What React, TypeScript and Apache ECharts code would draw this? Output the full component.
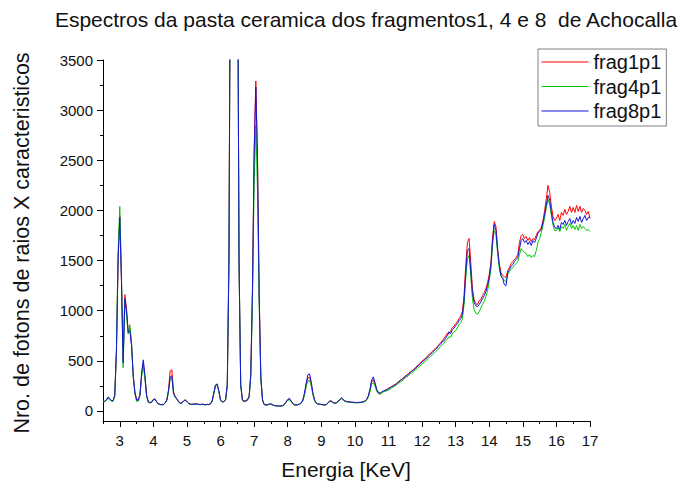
import React, { useEffect, useRef } from "react";
import * as echarts from "echarts";

// Spectrum sampling: first channel energy and channel width (KeV)
const E_START = 2.5;
const E_STEP = 0.05;

const TITLE = "Espectros da pasta ceramica dos fragmentos1, 4 e 8  de Achocalla";
const X_NAME = "Energia [KeV]";
const Y_NAME = "Nro. de fotons de raios X caracteristicos";
const SERIES_NAMES = ["frag1p1", "frag4p1", "frag8p1"];

const frag1p1 = [
  90, 95, 110, 135, 120, 105, 100, 150, 580, 1520,
  1950, 1280, 520, 1160, 1020, 800, 820, 660, 360, 190,
  120, 110, 160, 360, 480, 330, 150, 95, 85, 90,
  115, 118, 90, 70, 66, 63, 66, 80, 110, 210,
  400, 410, 190, 145, 120, 95, 78, 80, 100, 112,
  95, 75, 68, 66, 70, 68, 70, 66, 64, 68,
  65, 62, 66, 64, 72, 100, 178, 255, 265, 195,
  110, 90, 95, 110, 258, 1490, 5350, 11500, 14900, 11500,
  5350, 1490, 265, 115, 100, 105, 115, 145, 370, 1220,
  2600, 3290, 2540, 1170, 340, 110, 65, 60, 62, 68,
  70, 62, 55, 50, 52, 48, 50, 55, 65, 88,
  112, 120, 98, 75, 62, 60, 62, 70, 80, 105,
  170, 265, 330, 335, 270, 170, 105, 80, 70, 68,
  65, 62, 60, 65, 80, 100, 98, 85, 78, 82,
  95, 115, 130, 115, 100, 95, 92, 90, 88, 86,
  85, 84, 86, 85, 88, 92, 100, 115, 148, 210,
  290, 315, 265, 210, 182, 178, 188, 198, 208, 210,
  228, 235, 240, 258, 265, 280, 288, 310, 315, 330,
  350, 360, 368, 392, 398, 418, 430, 450, 458, 478,
  498, 512, 522, 545, 558, 575, 592, 610, 625, 640,
  660, 680, 700, 720, 745, 775, 770, 800, 830, 845,
  870, 890, 920, 950, 990, 1150, 1450, 1680, 1720, 1480,
  1220, 1110, 1070, 1060, 1100, 1110, 1150, 1180, 1220, 1280,
  1360, 1480, 1740, 1890, 1840, 1620, 1460, 1380, 1350, 1340,
  1330, 1400, 1430, 1470, 1490, 1510, 1530, 1560, 1680, 1750,
  1760, 1720, 1740, 1700, 1730, 1690, 1720, 1710, 1750, 1790,
  1800, 1830, 1900, 2000, 2120, 2250, 2180, 2040, 1940, 1900,
  1920, 1960, 1900, 1980, 1950, 2010, 1960, 1990, 2040, 1980,
  2030, 1980, 2050, 1990, 2040, 1980, 2020, 2000, 1960, 1990,
  1920,
];

const frag4p1 = [
  95, 100, 105, 125, 115, 100, 95, 150, 620, 1600,
  2040, 1350, 430, 1100, 960, 770, 860, 680, 340, 170,
  95, 100, 150, 340, 460, 320, 140, 85, 80, 85,
  110, 112, 88, 68, 64, 60, 62, 78, 100, 190,
  320, 330, 170, 135, 115, 90, 72, 78, 95, 108,
  92, 72, 66, 64, 68, 66, 68, 64, 62, 66,
  63, 60, 64, 62, 70, 95, 170, 250, 258, 190,
  105, 88, 92, 108, 250, 1480, 5300, 11400, 14800, 11400,
  5300, 1480, 255, 105, 92, 98, 105, 135, 340, 1080,
  2250, 2850, 2200, 1040, 310, 105, 62, 58, 60, 66,
  66, 60, 54, 50, 50, 48, 48, 52, 62, 85,
  105, 110, 95, 72, 60, 58, 60, 68, 76, 100,
  160, 240, 300, 305, 250, 160, 100, 76, 68, 66,
  64, 60, 58, 63, 76, 95, 92, 82, 75, 80,
  90, 108, 122, 108, 95, 90, 88, 86, 84, 82,
  82, 80, 82, 82, 85, 88, 96, 108, 138, 195,
  270, 285, 245, 195, 172, 165, 178, 190, 195, 200,
  210, 218, 232, 240, 250, 262, 275, 288, 300, 312,
  330, 340, 355, 368, 385, 395, 410, 422, 440, 452,
  470, 482, 498, 512, 528, 545, 558, 575, 590, 605,
  625, 640, 660, 675, 700, 715, 740, 735, 770, 790,
  800, 830, 860, 880, 920, 1060, 1320, 1520, 1550, 1350,
  1120, 1010, 975, 965, 990, 1030, 1060, 1090, 1140, 1200,
  1300, 1420, 1660, 1800, 1760, 1570, 1420, 1340, 1330, 1300,
  1290, 1360, 1390, 1410, 1430, 1450, 1470, 1490, 1560, 1620,
  1600, 1580, 1570, 1540, 1560, 1530, 1550, 1540, 1600, 1680,
  1720, 1780, 1850, 1930, 2030, 2110, 2060, 1950, 1850, 1800,
  1800, 1830, 1790, 1840, 1820, 1860, 1800, 1840, 1870, 1820,
  1850, 1810, 1850, 1800, 1860, 1820, 1840, 1820, 1800, 1810,
  1790,
];

const frag8p1 = [
  85, 95, 110, 140, 125, 100, 105, 160, 600, 1500,
  1930, 1300, 480, 1120, 1000, 780, 800, 650, 350, 180,
  110, 105, 160, 380, 510, 350, 150, 90, 80, 90,
  115, 120, 90, 70, 65, 62, 65, 80, 110, 200,
  340, 350, 180, 140, 120, 95, 75, 80, 100, 110,
  95, 75, 68, 66, 70, 68, 70, 66, 64, 68,
  65, 62, 66, 64, 72, 100, 180, 260, 270, 200,
  110, 90, 95, 110, 260, 1500, 5400, 11600, 15000, 11600,
  5400, 1500, 260, 110, 95, 100, 110, 140, 360, 1200,
  2550, 3230, 2500, 1150, 330, 110, 65, 60, 62, 68,
  70, 62, 55, 50, 52, 48, 50, 55, 65, 90,
  115, 125, 100, 75, 62, 60, 62, 70, 80, 110,
  180, 280, 360, 370, 290, 180, 110, 80, 70, 68,
  65, 62, 60, 65, 80, 100, 98, 85, 78, 82,
  95, 115, 130, 115, 100, 95, 92, 90, 88, 86,
  85, 84, 86, 85, 88, 92, 100, 115, 150, 220,
  310, 340, 280, 215, 185, 175, 190, 200, 205, 212,
  222, 230, 245, 250, 262, 272, 290, 300, 318, 325,
  345, 352, 370, 382, 400, 408, 425, 440, 455, 470,
  490, 500, 520, 530, 552, 565, 580, 600, 612, 630,
  655, 665, 690, 700, 725, 750, 790, 770, 810, 825,
  850, 870, 900, 920, 960, 1100, 1380, 1600, 1620, 1400,
  1180, 1080, 1050, 1040, 1060, 1090, 1120, 1150, 1190, 1250,
  1330, 1450, 1700, 1860, 1800, 1600, 1450, 1350, 1320, 1260,
  1250, 1380, 1410, 1440, 1460, 1490, 1510, 1530, 1620, 1700,
  1720, 1680, 1700, 1660, 1690, 1650, 1700, 1680, 1720, 1770,
  1790, 1810, 1880, 1960, 2060, 2150, 2100, 1980, 1880, 1830,
  1820, 1850, 1810, 1880, 1860, 1900, 1850, 1890, 1920, 1860,
  1900, 1870, 1930, 1890, 1940, 1880, 1920, 1950, 1900, 1930,
  1930,
];

const X_LABELS = [3, 4, 5, 6, 7, 8, 9, 10, 11, 12, 13, 14, 15, 16, 17];
const X_MINOR = [2.5, 3.5, 4.5, 5.5, 6.5, 7.5, 8.5, 9.5, 10.5, 11.5, 12.5, 13.5, 14.5, 15.5, 16.5];
const Y_LABELS = [0, 500, 1000, 1500, 2000, 2500, 3000, 3500];
const Y_MINOR = [250, 750, 1250, 1750, 2250, 2750, 3250];

const COLORS = ["#ff0000", "#00c800", "#1515d8"];
const FONT = "'Liberation Sans', Arial, sans-serif";
const plain = (v: number) => String(v);

export default function App() {
  const ref = useRef<HTMLDivElement>(null);

  useEffect(() => {
    if (!ref.current) return;
    const chart = echarts.init(ref.current, null, { renderer: "svg" });
    const energies = frag1p1.map((_, i) => +(E_START + i * E_STEP).toFixed(2));
    const pairs = (arr: number[]) => arr.map((v, i) => [energies[i], v]);
    const allSeries = [frag1p1, frag4p1, frag8p1];

    const xBase = {
      type: "value" as const,
      min: 2.5,
      max: 17,
      splitLine: { show: false },
    };
    const yBase = {
      type: "value" as const,
      min: -100,
      max: 3500,
      splitLine: { show: false },
    };

    chart.setOption({
      animation: false,
      backgroundColor: "#ffffff",
      textStyle: { fontFamily: FONT },
      grid: {
        left: 103,
        right: 99,
        top: 60,
        bottom: 60,
        containLabel: false,
        outerBoundsMode: "none",
      },
      xAxis: [
        {
          ...xBase,
          position: "bottom",
          axisLine: { show: true, onZero: false, lineStyle: { color: "#000", width: 1 } },
          axisTick: { show: true, customValues: X_LABELS, length: 6, lineStyle: { color: "#000" } },
          axisLabel: { show: true, customValues: X_LABELS, formatter: plain, fontSize: 15, color: "#111", margin: 12, fontFamily: FONT },
        },
        {
          ...xBase,
          position: "bottom",
          axisLine: { show: false, onZero: false },
          axisTick: { show: true, customValues: X_MINOR, length: 3, lineStyle: { color: "#000" } },
          axisLabel: { show: false },
        },
      ],
      yAxis: [
        {
          ...yBase,
          position: "left",
          axisLine: { show: true, onZero: false, lineStyle: { color: "#000", width: 1 } },
          axisTick: { show: true, customValues: Y_LABELS, length: 6, lineStyle: { color: "#000" } },
          axisLabel: { show: true, customValues: Y_LABELS, formatter: plain, fontSize: 15, color: "#111", margin: 10, fontFamily: FONT },
        },
        {
          ...yBase,
          position: "left",
          axisLine: { show: false, onZero: false },
          axisTick: { show: true, customValues: Y_MINOR, length: 3, lineStyle: { color: "#000" } },
          axisLabel: { show: false },
        },
      ],
      legend: {
        data: SERIES_NAMES,
        orient: "vertical",
        left: 538,
        top: 49,
        itemWidth: 47,
        itemHeight: 14,
        itemGap: 4.5,
        padding: [3, 5, 5, 3],
        borderColor: "#808080",
        borderWidth: 1,
        backgroundColor: "#ffffff",
        itemStyle: { opacity: 0 },
        lineStyle: { width: 1 },
        textStyle: { fontSize: 20, color: "#111", fontFamily: FONT },
      },
      series: allSeries.map((arr, i) => ({
        name: SERIES_NAMES[i],
        type: "line",
        xAxisIndex: 0,
        yAxisIndex: 0,
        data: pairs(arr),
        symbol: "none",
        showSymbol: false,
        clip: true,
        color: COLORS[i],
        lineStyle: { color: COLORS[i], width: 1 },
        z: 2 + i,
      })),
      graphic: [
        {
          type: "text",
          x: 366,
          y: 19,
          style: { text: TITLE, fontSize: 21, fontFamily: FONT, fill: "#111", align: "center", verticalAlign: "middle" },
        },
        {
          type: "text",
          x: 346,
          y: 469,
          style: { text: X_NAME, fontSize: 21, fontFamily: FONT, fill: "#111", align: "center", verticalAlign: "middle" },
        },
        {
          type: "text",
          x: 22,
          y: 243,
          rotation: Math.PI / 2,
          style: { text: Y_NAME, fontSize: 21.5, fontFamily: FONT, fill: "#111", align: "center", verticalAlign: "middle" },
        },
      ],
    });

    return () => {
      chart.dispose();
    };
  }, []);

  return (
    <div
      ref={ref}
      style={{ position: "fixed", left: 0, top: 0, width: 689, height: 481, background: "#fff" }}
    />
  );
}
